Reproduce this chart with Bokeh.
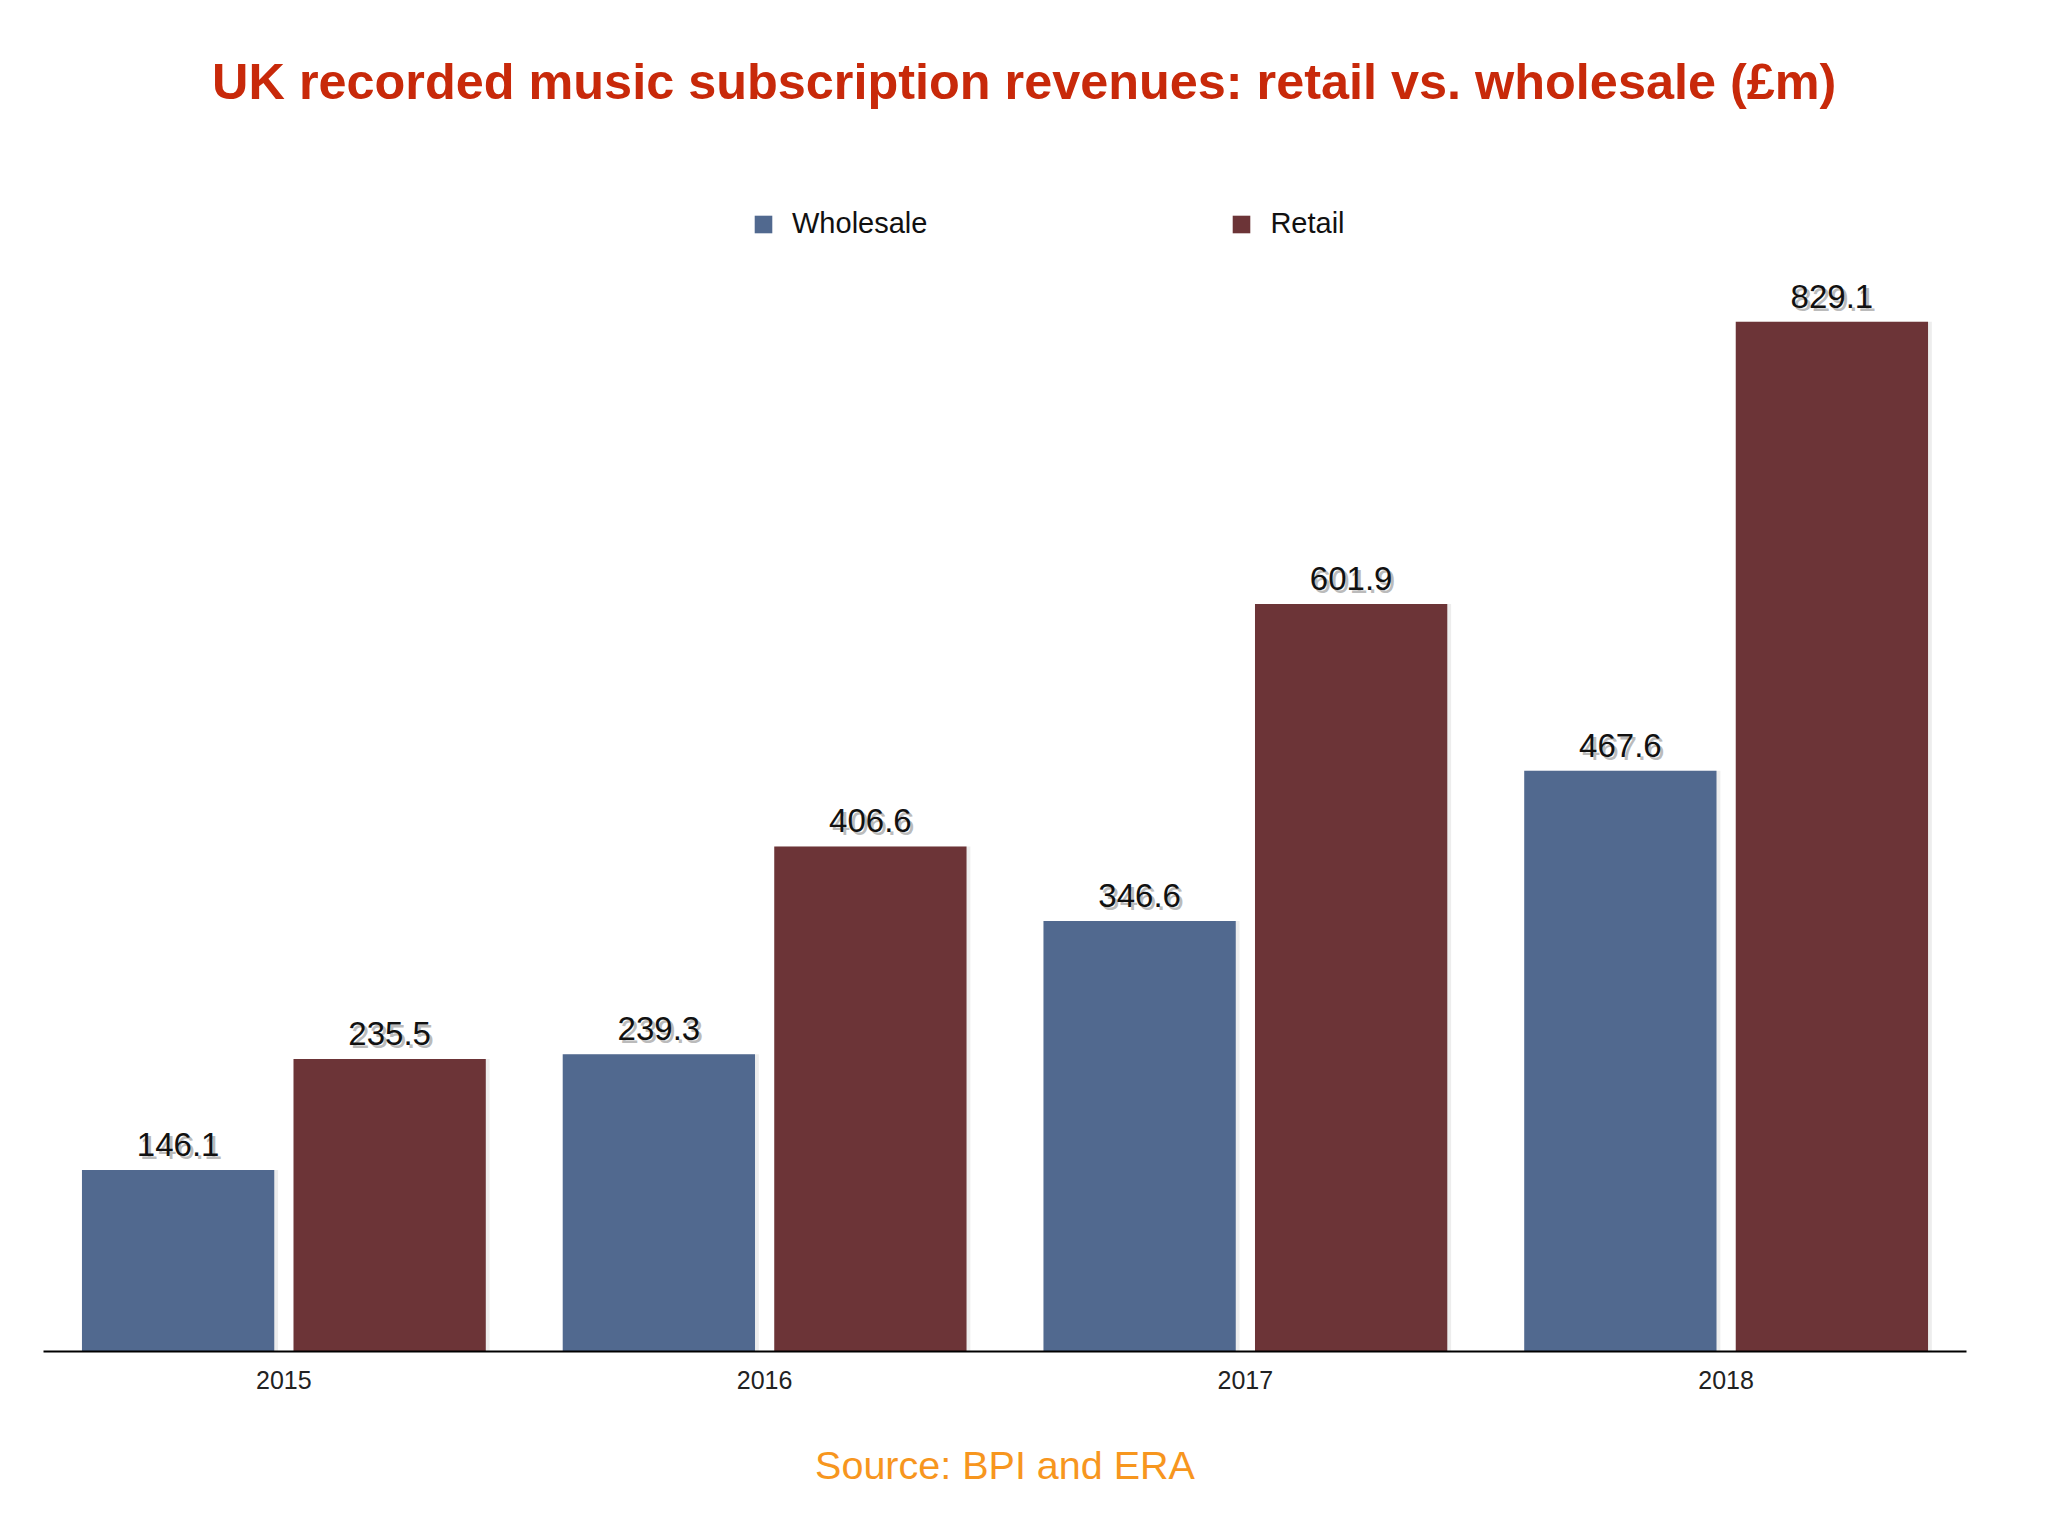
from bokeh.plotting import figure
from bokeh.models import ColumnDataSource, Range1d, FactorRange, Label, Legend, LegendItem, Title
from bokeh.transform import dodge
from bokeh.core.properties import value
from bokeh.embed import file_html
from bokeh.resources import INLINE

years = ["2015", "2016", "2017", "2018"]
wholesale = [146.1, 239.3, 346.6, 467.6]
retail = [235.5, 406.6, 601.9, 829.1]
series_names = ["Wholesale", "Retail"]
title_text = "UK recorded music subscription revenues: retail vs. wholesale (£m)"
source_text = "Source: BPI and ERA"

W_COLOR = "#51698f"
R_COLOR = "#6c3437"
FONT = "Liberation Sans"

src = ColumnDataSource(dict(
    year=years,
    wholesale=wholesale,
    retail=retail,
    wl=[f"{v:.1f}" for v in wholesale],
    rl=[f"{v:.1f}" for v in retail],
))

p = figure(width=2030, height=1535, x_range=FactorRange(*years), y_range=Range1d(0, 1087.7),
           output_backend="svg", toolbar_location=None)
p.min_border_left = 43
p.min_border_right = 2030 - 1966
p.min_border_top = 0
p.min_border_bottom = 0
p.outline_line_color = None
p.xgrid.grid_line_color = None
p.ygrid.grid_line_color = None
p.yaxis.visible = False
p.background_fill_color = "white"

xa = p.xaxis[0]
xa.axis_line_color = "black"
xa.axis_line_width = 2
xa.major_tick_line_color = None
xa.minor_tick_line_color = None
xa.major_tick_out = 0
xa.major_tick_in = 0
xa.major_label_standoff = 19
xa.major_label_text_font = FONT
xa.major_label_text_font_size = "25px"
xa.major_label_text_color = "#222222"

# soft shadows
p.vbar(x=dodge("year", -0.214, range=p.x_range), top="wholesale", bottom=-3, width=0.404,
       source=src, fill_color="black", fill_alpha=0.07, line_color=None)
p.vbar(x=dodge("year", 0.226, range=p.x_range), top="retail", bottom=-3, width=0.404,
       source=src, fill_color="black", fill_alpha=0.07, line_color=None)

rw = p.vbar(x=dodge("year", -0.22, range=p.x_range), top="wholesale", width=0.4, source=src,
            fill_color=W_COLOR, line_color=None)
rr = p.vbar(x=dodge("year", 0.22, range=p.x_range), top="retail", width=0.4, source=src,
            fill_color=R_COLOR, line_color=None)

for col, lab, off in (("wholesale", "wl", -0.22), ("retail", "rl", 0.22)):
    p.text(x=dodge("year", off, range=p.x_range), y=col, text=lab, source=src,
           x_offset=3, y_offset=-11, text_align="center", text_baseline="bottom",
           text_font=value(FONT), text_font_size="33px", text_color="#777777", text_alpha=0.5)
    p.text(x=dodge("year", off, range=p.x_range), y=col, text=lab, source=src,
           x_offset=0, y_offset=-14, text_align="center", text_baseline="bottom",
           text_font=value(FONT), text_font_size="33px", text_color="#111111")

legend = Legend(items=[LegendItem(label=series_names[0], renderers=[rw]),
                       LegendItem(label=series_names[1], renderers=[rr])],
                orientation="horizontal", location=(709, 1111),
                glyph_width=22, glyph_height=22, label_height=30, label_standoff=18,
                spacing=303, padding=10, border_line_color=None, background_fill_alpha=0,
                label_text_font=FONT, label_text_font_size="29px", label_text_color="#111111")
p.add_layout(legend, "center")

p.add_layout(Label(x=2.04, y=1022.5, text=title_text, text_align="center", text_baseline="middle",
                   text_font=FONT, text_font_style="bold", text_font_size="50.4px", text_color="#c8290a"))

p.add_layout(Title(text=source_text, align="center", offset=-38, standoff=98,
                   text_font=FONT, text_font_style="normal", text_font_size="39.5px",
                   text_color="#f7961e"), "below")

open("out.html", "w").write(file_html(p, INLINE))
